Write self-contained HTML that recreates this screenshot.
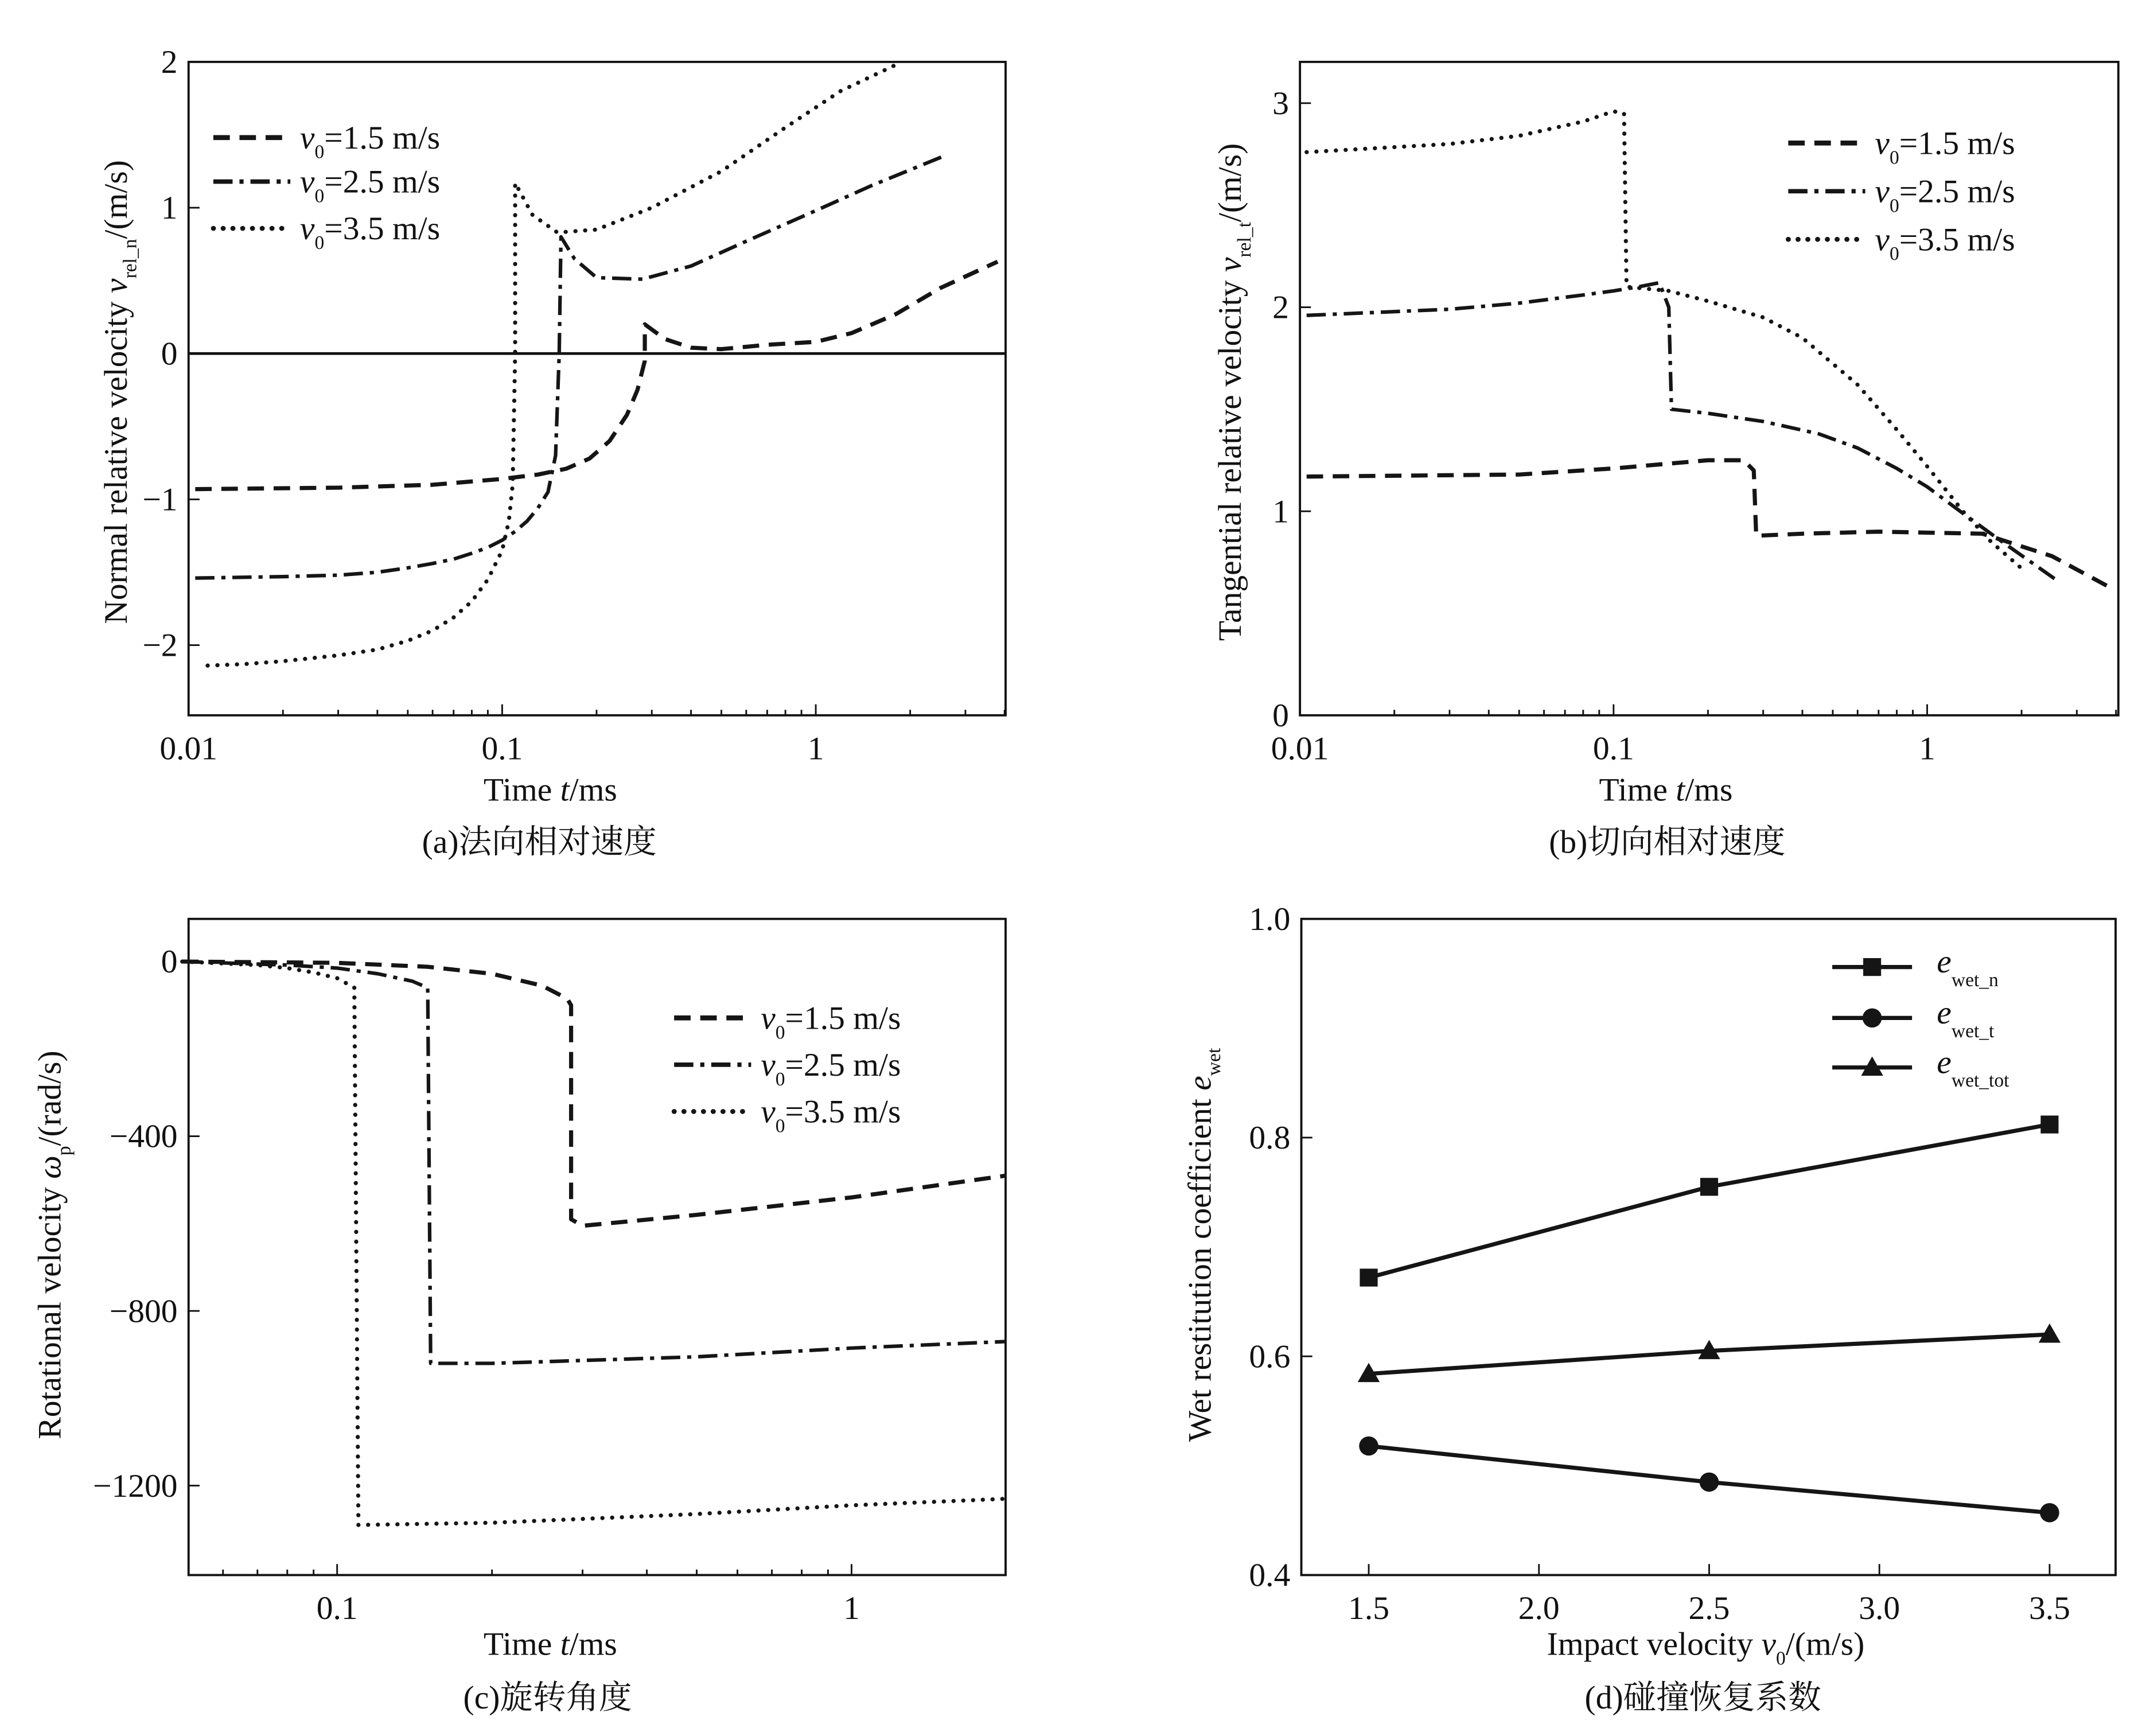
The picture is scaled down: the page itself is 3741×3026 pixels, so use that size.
<!DOCTYPE html>
<html><head><meta charset="utf-8"><style>
html,body{margin:0;padding:0;background:#fff;}
svg{display:block;}
text{font-family:"Liberation Serif","Noto Serif CJK SC",serif;fill:#111;}
</style></head><body>
<svg id="fig" width="3741" height="3026" viewBox="0 0 1560 1262" xmlns="http://www.w3.org/2000/svg"></svg>
<script>
// ---- data ----
const legendLabels = ["1.5", "2.5", "3.5"];
const aT15 = [0.0105,0.03,0.06,0.1,0.13,0.16,0.19,0.22,0.25,0.27,0.285,0.285,0.33,0.4,0.5,0.7,1.0,1.3,1.8,2.5,3.8];
const aV15 = [-0.93,-0.92,-0.9,-0.86,-0.83,-0.79,-0.72,-0.6,-0.42,-0.25,-0.05,0.2,0.1,0.04,0.03,0.06,0.08,0.14,0.27,0.45,0.63];
const aT25 = [0.0105,0.02,0.03,0.04,0.05,0.06,0.07,0.08,0.09,0.1,0.11,0.12,0.13,0.14,0.148,0.152,0.154,0.17,0.2,0.28,0.4,0.6,1,1.5,2.6];
const aV25 = [-1.54,-1.53,-1.52,-1.5,-1.47,-1.44,-1.41,-1.37,-1.33,-1.28,-1.22,-1.15,-1.06,-0.95,-0.7,0.0,0.8,0.65,0.52,0.51,0.6,0.77,0.98,1.15,1.36];
const aT35 = [0.0115,0.015,0.02,0.03,0.04,0.05,0.06,0.07,0.08,0.09,0.1,0.105,0.108,0.11,0.11,0.125,0.15,0.2,0.3,0.5,0.8,1.2,1.8];
const aV35 = [-2.14,-2.13,-2.11,-2.07,-2.03,-1.97,-1.9,-1.81,-1.7,-1.55,-1.35,-1.15,-0.9,0,1.17,0.95,0.83,0.85,1.0,1.25,1.55,1.8,1.98];
const bT15 = [0.0105,0.05,0.1,0.2,0.26,0.28,0.285,0.4,0.7,1.5,2.5,3.9];
const bV15 = [1.17,1.18,1.21,1.25,1.25,1.2,0.88,0.89,0.9,0.89,0.78,0.62];
const bT25 = [0.0105,0.03,0.05,0.08,0.1,0.12,0.14,0.15,0.153,0.2,0.3,0.45,0.6,0.8,1,1.3,1.7,2.6];
const bV25 = [1.96,1.99,2.02,2.06,2.08,2.1,2.12,2.0,1.5,1.48,1.44,1.38,1.31,1.21,1.12,0.99,0.86,0.66];
const bT35 = [0.0105,0.03,0.05,0.08,0.1,0.108,0.11,0.15,0.2,0.3,0.4,0.6,0.8,1,1.3,1.6,2];
const bV35 = [2.76,2.8,2.84,2.91,2.96,2.95,2.1,2.08,2.03,1.95,1.85,1.62,1.4,1.22,1.0,0.85,0.72];
const cT15 = [0.05,0.1,0.15,0.2,0.25,0.28,0.285,0.285,0.3,0.5,1,2];
const cW15 = [0,-3,-12,-28,-55,-85,-100,-590,-605,-580,-540,-490];
const cT25 = [0.05,0.08,0.1,0.12,0.14,0.15,0.152,0.2,0.5,1,2];
const cW25 = [0,-8,-15,-28,-45,-60,-920,-920,-905,-885,-870];
const cT35 = [0.05,0.07,0.08,0.09,0.1,0.108,0.11,0.2,0.5,1,2];
const cW35 = [0,-8,-15,-25,-38,-60,-1290,-1285,-1265,-1245,-1230];
const dX = [1.5,2.5,3.5];
const dN = [0.672,0.755,0.812];
const dT = [0.518,0.485,0.457];
const dTot = [0.584,0.605,0.62];
const aYTicks = [2,1,0,-1,-2];
const bYTicks = [3,2,1,0];
const cYTicks = [0,-400,-800,-1200];
const dYTicks = [1.0,0.8,0.6,0.4];
const dXTicks = [1.5,2.0,2.5,3.0,3.5];

const NS="http://www.w3.org/2000/svg";
const svg=document.getElementById('fig');
function mk(tag,attrs,parent){const e=document.createElementNS(NS,tag);for(const k in attrs)e.setAttribute(k,attrs[k]);(parent||svg).appendChild(e);return e;}
const styles=[{dash:"12 7",cap:"butt",w:3},{dash:"14 5 3 5",cap:"butt",w:2.6},{dash:"0.1 7",cap:"round",w:3}];

function logAxis(x0,x1,lmin,lmax){return v=>x0+(Math.log10(v)-lmin)/(lmax-lmin)*(x1-x0);}
function linAxis(p0,p1,v0,v1){return v=>p0+(v-v0)/(v1-v0)*(p1-p0);}

function frame(g,L,T,R,B){
  const r=mk('rect',{x:L,y:T,width:R-L,height:B-T,fill:'none',stroke:'#111','stroke-width':1.6},g);
  
  
}
function logXTicks(g,sx,B,L,R,decades,minorRange){
  for(let d=minorRange[0];d<=minorRange[1];d++){for(let m=1;m<10;m++){const v=m*Math.pow(10,d);const x=sx(v);if(x<L-0.5||x>R+0.5)continue;
    const major=(m===1);mk('line',{x1:x,x2:x,y1:B,y2:B-(major?8:4),stroke:'#111','stroke-width':1.2},g);}}
  decades.forEach(v=>{const t=mk('text',{x:sx(v),y:B+32,'font-size':24,'text-anchor':'middle'},g);t.textContent=String(v);
    });
}
function yTicks(g,sy,L,ticks,fmt){
  ticks.forEach(v=>{const y=sy(v);mk('line',{x1:L,x2:L+8,y1:y,y2:y,stroke:'#111','stroke-width':1.2},g);
    const t=mk('text',{x:L-8,y:y+8,'font-size':24,'text-anchor':'end'},g);t.textContent=fmt?fmt(v):(v<0?'−'+(-v):String(v));
    });
}
function series(g,sx,sy,xs,ys,st,name){
  const d=xs.map((x,i)=>(i?'L':'M')+sx(x).toFixed(2)+' '+sy(ys[i]).toFixed(2)).join(' ');
  const p=mk('path',{d:d,fill:'none',stroke:'#151515','stroke-width':st.w,'stroke-dasharray':st.dash,'stroke-linecap':st.cap,'stroke-linejoin':'round'},g);
  
  
}
function legend(g,x,ys){
  ys.forEach((y,i)=>{const st=styles[i];
    mk('line',{x1:x,x2:x+56,y1:y,y2:y,stroke:'#151515','stroke-width':st.w+0.6,'stroke-dasharray':st.dash,'stroke-linecap':st.cap},g);
    const t=mk('text',{x:x+63,y:y+8,'font-size':24},g);
    t.innerHTML='<tspan font-style="italic">v</tspan><tspan font-size="14" dy="7">0</tspan><tspan dy="-7">='+legendLabels[i]+' m/s</tspan>';
    });
}
function label(g,x,y,html,rot,name,size){
  const t=mk('text',{x:x,y:y,'font-size':size||24,'text-anchor':'middle'},g);
  if(rot)t.setAttribute('transform','rotate(-90 '+x+' '+y+')');
  t.innerHTML=html;
}
function panel(name){const g=mk('g',{});return g;}

// ---- panel a ----
(function(){
  const g=panel('panel-a');const L=137,R=731,T=45,B=520;
  const sx=logAxis(L,R,-2,Math.log10(4.03));const sy=linAxis(257,469,0,-2);
  frame(g,L,T,R,B);
  logXTicks(g,sx,B,L,R,[0.01,0.1,1],[-2,0]);
  yTicks(g,sy,L,aYTicks);
  mk('line',{x1:L,x2:R,y1:sy(0),y2:sy(0),stroke:'#111','stroke-width':2},g);
  series(g,sx,sy,aT15,aV15,styles[0],'series-v0-1.5');
  series(g,sx,sy,aT25,aV25,styles[1],'series-v0-2.5');
  series(g,sx,sy,aT35,aV35,styles[2],'series-v0-3.5');
  legend(g,155,[100,132,166]);
  label(g,400,582,'Time <tspan font-style="italic">t</tspan>/ms',false,'x-axis-title');
  label(g,92,285,'Normal relative velocity <tspan font-style="italic">v</tspan><tspan font-size="14" dy="7">rel_n</tspan><tspan dy="-7">/(m/s)</tspan>',true,'y-axis-title');
  label(g,392,620,'(a)法向相对速度',false,'caption-a',24);
})();
// ---- panel b ----
(function(){
  const g=panel('panel-b');const L=945,R=1540,T=45,B=520;
  const sx=logAxis(L,R,-2,-2+(R-L)/228);const sy=linAxis(520,75,0,3);
  frame(g,L,T,R,B);
  logXTicks(g,sx,B,L,R,[0.01,0.1,1],[-2,0]);
  yTicks(g,sy,L,bYTicks);
  series(g,sx,sy,bT15,bV15,styles[0],'series-v0-1.5');
  series(g,sx,sy,bT25,bV25,styles[1],'series-v0-2.5');
  series(g,sx,sy,bT35,bV35,styles[2],'series-v0-3.5');
  legend(g,1300,[104,139,174]);
  label(g,1211,582,'Time <tspan font-style="italic">t</tspan>/ms',false,'x-axis-title');
  label(g,902,285,'Tangential relative velocity <tspan font-style="italic">v</tspan><tspan font-size="14" dy="7">rel_t</tspan><tspan dy="-7">/(m/s)</tspan>',true,'y-axis-title');
  label(g,1212,620,'(b)切向相对速度',false,'caption-b',24);
})();
// ---- panel c ----
(function(){
  const g=panel('panel-c');const L=137,R=731,T=668,B=1145;
  const sx=logAxis(245,619,-1,0);const sy=linAxis(699,826,0,-400);
  frame(g,L,T,R,B);
  logXTicks(g,sx,B,L,R,[0.1,1],[-2,0]);
  yTicks(g,sy,L,cYTicks);
  series(g,sx,sy,cT15,cW15,styles[0],'series-v0-1.5');
  series(g,sx,sy,cT25,cW25,styles[1],'series-v0-2.5');
  series(g,sx,sy,cT35,cW35,styles[2],'series-v0-3.5');
  legend(g,490,[740,774,808]);
  label(g,400,1203,'Time <tspan font-style="italic">t</tspan>/ms',false,'x-axis-title');
  label(g,44,905,'Rotational velocity <tspan font-style="italic">ω</tspan><tspan font-size="14" dy="7">p</tspan><tspan dy="-7">/(rad/s)</tspan>',true,'y-axis-title');
  label(g,398,1242,'(c)旋转角度',false,'caption-c',24);
})();
// ---- panel d ----
(function(){
  const g=panel('panel-d');const L=946,R=1538,T=668,B=1145;
  const sx=linAxis(995,1490,1.5,3.5);const sy=linAxis(668,1145,1.0,0.4);
  frame(g,L,T,R,B);
  dXTicks.forEach(v=>{const x=sx(v);mk('line',{x1:x,x2:x,y1:B,y2:B-8,stroke:'#111','stroke-width':1.2},g);
    const t=mk('text',{x:x,y:B+32,'font-size':24,'text-anchor':'middle'},g);t.textContent=v.toFixed(1);
    });
  yTicks(g,sy,L,dYTicks,v=>v.toFixed(1));
  const sets=[[dN,'square','series-e-wet-n'],[dT,'circle','series-e-wet-t'],[dTot,'triangle','series-e-wet-tot']];
  function marker(x,y,type){let e;
    if(type==='square')e=mk('rect',{x:x-6.5,y:y-6.5,width:13,height:13,fill:'#151515'},g);
    else if(type==='circle')e=mk('circle',{cx:x,cy:y,r:7,fill:'#151515'},g);
    else e=mk('polygon',{points:(x)+','+(y-8)+' '+(x+8)+','+(y+6)+' '+(x-8)+','+(y+6),fill:'#151515'},g);
    }
  sets.forEach(s=>{
    const d=dX.map((x,i)=>(i?'L':'M')+sx(x)+' '+sy(s[0][i])).join(' ');
    const p=mk('path',{d:d,fill:'none',stroke:'#151515','stroke-width':3},g);
    
    dX.forEach((x,i)=>marker(sx(x),sy(s[0][i]),s[1]));
  });
  const ly=[703,740,776];const subs=['wet_n','wet_t','wet_tot'];
  ly.forEach((y,i)=>{mk('line',{x1:1332,x2:1390,y1:y,y2:y,stroke:'#151515','stroke-width':3},g);marker(1361,y,sets[i][1]);
    const t=mk('text',{x:1408,y:y+4,'font-size':24},g);
    t.innerHTML='<tspan font-style="italic">e</tspan><tspan font-size="14" dy="10">'+subs[i]+'</tspan>';
    });
  label(g,1240,1203,'Impact velocity <tspan font-style="italic">v</tspan><tspan font-size="14" dy="7">0</tspan><tspan dy="-7">/(m/s)</tspan>',false,'x-axis-title');
  label(g,880,905,'Wet restitution coefficient <tspan font-style="italic">e</tspan><tspan font-size="14" dy="7">wet</tspan>',true,'y-axis-title');
  label(g,1238,1242,'(d)碰撞恢复系数',false,'caption-d',24);
})();
</script>
</body></html>
